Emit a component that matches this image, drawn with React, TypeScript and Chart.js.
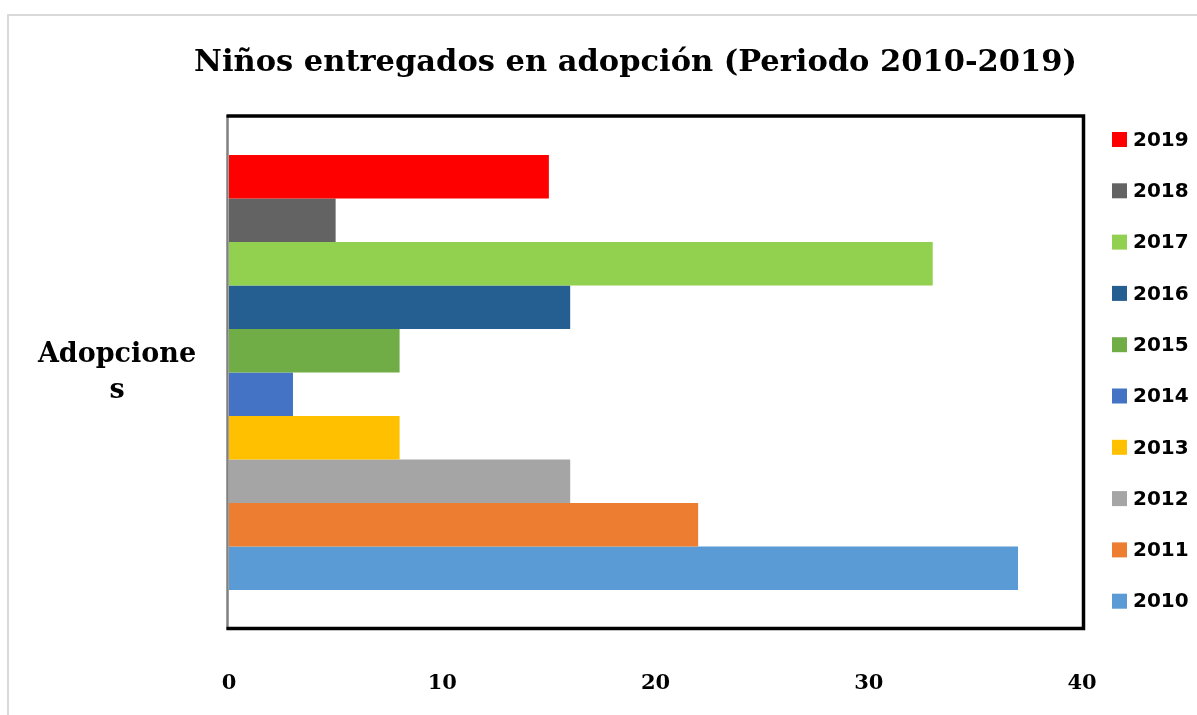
import React, { useEffect, useRef } from "react";
import { Chart, registerables } from "chart.js";

Chart.register(...registerables);

const years = ["2010", "2011", "2012", "2013", "2014", "2015", "2016", "2017", "2018", "2019"];
const adoptions = [37, 22, 16, 8, 3, 8, 16, 33, 5, 15];
const yearColors = [
  "#5B9BD5",
  "#ED7D31",
  "#A5A5A5",
  "#FFC000",
  "#4472C4",
  "#70AD47",
  "#255E91",
  "#92D050",
  "#636363",
  "#FF0000",
];
const categoryLabels = [["Adopcione", "s"]];
const xMin = 0;
const xMax = 40;
const xStep = 10;
const chartTitle = "Niños entregados en adopción (Periodo 2010-2019)";

const W = 1197;
const H = 715;

const framePlugin = {
  id: "framePlugin",
  beforeDraw(chart: any) {
    const ctx = chart.ctx;
    ctx.save();
    ctx.strokeStyle = "#d9d9d9";
    ctx.lineWidth = 2;
    ctx.beginPath();
    ctx.moveTo(8, H + 2);
    ctx.lineTo(8, 15);
    ctx.lineTo(W + 2, 15);
    ctx.stroke();
    ctx.restore();
  },
  afterDatasetsDraw(chart: any) {
    const { ctx, chartArea } = chart;
    const { left, right, top, bottom } = chartArea;
    ctx.save();
    ctx.strokeStyle = "#808080";
    ctx.lineWidth = 2.5;
    ctx.beginPath();
    ctx.moveTo(left - 1.5, top - 3);
    ctx.lineTo(left - 1.5, bottom + 3);
    ctx.stroke();
    ctx.strokeStyle = "#000000";
    ctx.lineWidth = 3.5;
    ctx.beginPath();
    ctx.moveTo(left - 2.5, top - 2);
    ctx.lineTo(right + 1.5, top - 2);
    ctx.lineTo(right + 1.5, bottom + 1.5);
    ctx.lineTo(left - 2.5, bottom + 1.5);
    ctx.stroke();
    ctx.restore();
  },
};

const categoryLabelPlugin = {
  id: "categoryLabel",
  afterDraw(chart: any) {
    const ctx = chart.ctx;
    const yScale = chart.scales.y;
    const labels = chart.data.labels as any[];
    ctx.save();
    ctx.font = "bold 27px 'DejaVu Serif'";
    ctx.fillStyle = "#000000";
    ctx.textAlign = "center";
    ctx.textBaseline = "middle";
    const lineGap = 36;
    labels.forEach((lab: any, idx: number) => {
      const lines: string[] = Array.isArray(lab) ? lab : [String(lab)];
      const cy = yScale.getPixelForValue(idx);
      const y0 = cy - ((lines.length - 1) * lineGap) / 2;
      lines.forEach((ln, j) => ctx.fillText(ln, 117, y0 + j * lineGap));
    });
    ctx.restore();
  },
};

const legendPlugin = {
  id: "sideLegend",
  afterDraw(chart: any) {
    const ctx = chart.ctx;
    const ds = chart.data.datasets;
    const startY = 139.5;
    const gap = 51.3;
    ctx.save();
    ctx.font = "bold 20px 'DejaVu Sans'";
    ctx.textBaseline = "middle";
    ctx.textAlign = "left";
    ds.forEach((d: any, i: number) => {
      const cy = startY + i * gap;
      ctx.fillStyle = d.backgroundColor;
      ctx.fillRect(1112, cy - 7.5, 15, 15);
      ctx.fillStyle = "#000000";
      ctx.fillText(d.label, 1133, cy + 1);
    });
    ctx.restore();
  },
};

export default function App() {
  const canvasRef = useRef<HTMLCanvasElement | null>(null);

  useEffect(() => {
    document.body.style.margin = "0";
    const canvas = canvasRef.current;
    if (!canvas) return;
    const order = years.map((_, i) => i).reverse();
    const datasets = order.map((i) => ({
      label: years[i],
      data: [adoptions[i]],
      backgroundColor: yearColors[i],
      borderWidth: 0,
      categoryPercentage: 0.855,
      barPercentage: 1.0,
    }));
    const chart = new Chart(canvas, {
      type: "bar",
      data: { labels: categoryLabels as any, datasets },
      options: {
        indexAxis: "y",
        animation: false,
        responsive: false,
        devicePixelRatio: 1,
        layout: { padding: { left: 189, right: 115, top: 0, bottom: 0 } },
        plugins: {
          legend: { display: false },
          tooltip: { enabled: false },
          title: {
            display: true,
            text: chartTitle,
            color: "#000000",
            font: { family: "'DejaVu Serif'", size: 30.5, weight: "bold", lineHeight: 1.2 },
            padding: { top: 45, bottom: 36.4 },
          },
        },
        scales: {
          x: {
            type: "linear",
            min: xMin,
            max: xMax,
            grid: { display: false, drawTicks: false },
            border: { display: false },
            ticks: {
              stepSize: xStep,
              color: "#000000",
              padding: 44,
              font: { family: "'DejaVu Serif'", size: 21, weight: "bold" },
            },
            afterFit: (scale: any) => {
              scale.height = 88;
            },
          },
          y: {
            type: "category",
            grid: { display: false, drawTicks: false },
            border: { display: false },
            ticks: { display: false },
            afterFit: (scale: any) => {
              scale.width = 40;
            },
          },
        },
      } as any,
      plugins: [framePlugin, categoryLabelPlugin, legendPlugin],
    });
    return () => chart.destroy();
  }, []);

  return (
    <div style={{ width: W, height: H, overflow: "hidden", background: "#ffffff" }}>
      <canvas ref={canvasRef} width={W} height={H} style={{ display: "block" }} />
    </div>
  );
}
